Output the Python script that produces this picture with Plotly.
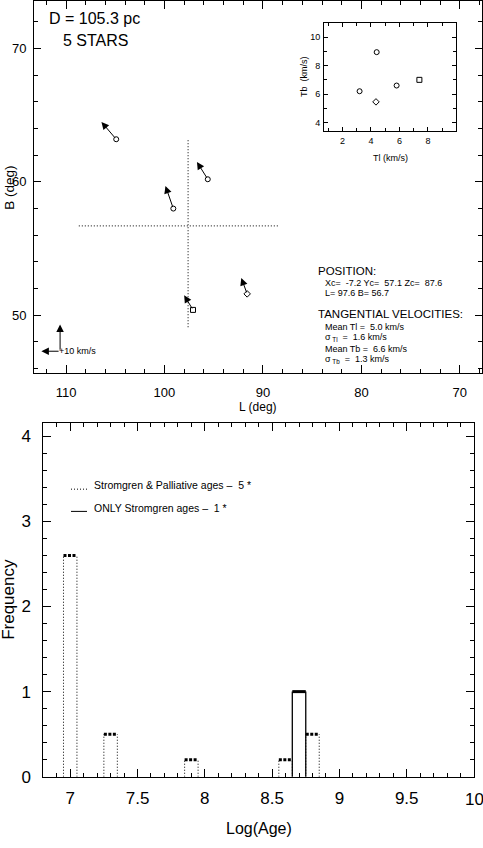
import plotly.graph_objects as go

# ---------------- DATA ----------------
# Top panel: star positions (galactic L, B in deg) and velocity-arrow tips
star_L = [104.9, 95.6, 99.1, 91.6, 97.1]
star_B = [63.2, 60.2, 58.0, 51.6, 50.4]
tip_L = [106.4, 96.7, 99.9, 92.2, 98.0]
tip_B = [64.5, 61.5, 59.7, 52.8, 51.5]
star_symbols = ["circle-open", "circle-open", "circle-open", "diamond-open", "square-open"]

# group centre cross
center_L = 97.6
center_B = 56.7
cross_L_span = [108.7, 88.3]
cross_B_span = [49.1, 63.2]

# 10 km/s scale arrows
scale_L0, scale_B0 = 110.6, 47.3
scale_Ltip, scale_Btip = 112.5, 49.3

# Inset: tangential velocities
inset_Tl = [4.4, 3.2, 4.35, 5.8, 7.4]
inset_Tb = [8.95, 6.2, 5.45, 6.6, 7.0]
inset_symbols = ["circle-open", "circle-open", "diamond-open", "circle-open", "square-open"]

# Bottom panel: age histogram
bins_all = [7.0, 7.3, 7.9, 8.6, 8.8]
freq_all = [2.6, 0.5, 0.2, 0.2, 0.5]
bins_only = [8.7]
freq_only = [1.0]
bin_width = 0.1
age_last_tick = 10

W, H = 483, 848
FONT = "Liberation Sans, Arial, sans-serif"


def xp(px):
    return px / W


def yp(py):
    return 1 - py / H


fig = go.Figure()

# ---- top panel ----
fig.add_trace(go.Scatter(x=cross_L_span, y=[center_B, center_B], mode="lines",
                         line=dict(color="black", width=1, dash="1px,2px"),
                         xaxis="x", yaxis="y", hoverinfo="skip"))
fig.add_trace(go.Scatter(x=[center_L, center_L], y=cross_B_span, mode="lines",
                         line=dict(color="black", width=1, dash="1px,2px"),
                         xaxis="x", yaxis="y", hoverinfo="skip"))
fig.add_trace(go.Scatter(x=star_L, y=star_B, mode="markers",
                         marker=dict(symbol=star_symbols, size=5, color="black",
                                     line=dict(width=1, color="black")),
                         xaxis="x", yaxis="y"))

annotations = []
for l0, b0, l1, b1 in zip(star_L, star_B, tip_L, tip_B):
    annotations.append(dict(x=l1, y=b1, ax=l0, ay=b0, xref="x", yref="y",
                            axref="x", ayref="y", text="", showarrow=True,
                            arrowhead=2, arrowsize=1.5, arrowwidth=1,
                            arrowcolor="black"))
# scale arrows
annotations.append(dict(x=scale_Ltip, y=scale_B0, ax=scale_L0, ay=scale_B0,
                        xref="x", yref="y", axref="x", ayref="y", text="",
                        showarrow=True, arrowhead=2, arrowsize=1.5, arrowwidth=1,
                        arrowcolor="black"))
annotations.append(dict(x=scale_L0, y=scale_Btip, ax=scale_L0, ay=scale_B0,
                        xref="x", yref="y", axref="x", ayref="y", text="",
                        showarrow=True, arrowhead=2, arrowsize=1.5, arrowwidth=1,
                        arrowcolor="black"))
annotations.append(dict(x=scale_L0, y=scale_B0, xref="x", yref="y", text="+10 km/s",
                        showarrow=False, xanchor="left", yanchor="middle",
                        xshift=-3, font=dict(size=9, family=FONT, color="black")))

# ---- inset ----
fig.add_trace(go.Scatter(x=inset_Tl, y=inset_Tb, mode="markers",
                         marker=dict(symbol=inset_symbols, size=5, color="black",
                                     line=dict(width=1, color="black")),
                         xaxis="x2", yaxis="y2"))

# ---- bottom histogram ----
def bar_sides(centers, heights, w):
    xs, ys = [], []
    for c, h in zip(centers, heights):
        xs += [c - w / 2, c - w / 2, None, c + w / 2, c + w / 2, None]
        ys += [0, h, None, 0, h, None]
    return xs, ys


def bar_tops(centers, heights, w):
    xs, ys = [], []
    for c, h in zip(centers, heights):
        xs += [c - w / 2, c + w / 2, None]
        ys += [h, h, None]
    return xs, ys


sx, sy = bar_sides(bins_all, freq_all, bin_width)
fig.add_trace(go.Scatter(x=sx, y=sy, mode="lines",
                         line=dict(color="black", width=1, dash="1px,2px"),
                         xaxis="x3", yaxis="y3"))
tx, ty = bar_tops(bins_all, freq_all, bin_width)
fig.add_trace(go.Scatter(x=tx, y=ty, mode="lines",
                         line=dict(color="black", width=3, dash="3px,1.5px"),
                         xaxis="x3", yaxis="y3"))
sx, sy = bar_sides(bins_only, freq_only, bin_width)
fig.add_trace(go.Scatter(x=sx, y=sy, mode="lines",
                         line=dict(color="black", width=1.3),
                         xaxis="x3", yaxis="y3"))
tx, ty = bar_tops(bins_only, freq_only, bin_width)
fig.add_trace(go.Scatter(x=tx, y=ty, mode="lines",
                         line=dict(color="black", width=3),
                         xaxis="x3", yaxis="y3"))

# ---- texts ----
def txt(x, y, s, size, anchor="left", angle=0):
    annotations.append(dict(x=xp(x), y=yp(y), xref="paper", yref="paper", text=s,
                            showarrow=False, xanchor=anchor, yanchor="middle",
                            textangle=angle,
                            font=dict(size=size, family=FONT, color="black")))


NB = "\u00a0"
txt(47, 19, "D = 105.3 pc", 16)
txt(61, 41, "5 STARS", 16)
txt(316, 274, "POSITION:", 11.5)
txt(323, 286, f"Xc={NB}{NB}-7.2 Yc={NB}{NB}57.1 Zc={NB}{NB}87.6", 9)
txt(323, 297, "L= 97.6 B= 56.7", 9)
txt(316, 318, "TANGENTIAL VELOCITIES:", 11.5)
txt(323, 331, f"Mean Tl ={NB}{NB}5.0 km/s", 9)
txt(323, 342, f"σ<sub>{NB}Tl</sub>{NB}{NB}={NB}{NB}1.6 km/s", 9)
txt(323, 353, f"Mean Tb ={NB}{NB}6.6 km/s", 9)
txt(323, 364, f"σ<sub>{NB}Tb</sub>{NB}{NB}={NB}{NB}1.3 km/s", 9)
txt(258, 412, "L (deg)", 12, "center")
txt(10, 190, "B (deg)", 13.5, "center", -90)
txt(390, 160, "Tl (km/s)", 9, "center")
txt(304, 78, f"Tb{NB}{NB}(km/s)", 9, "center", -90)
txt(259, 838, "Log(Age)", 16, "center")
txt(9, 607, "Frequency", 17, "center", -90)
txt(92, 491, f"Stromgren &amp; Palliative ages –{NB}{NB}5 *", 10.5)
txt(92, 514, f"ONLY Stromgren ages –{NB}{NB}1 *", 10.5)

# last x tick label of the histogram (dropped by plotly at the paper edge)
annotations.append(dict(x=age_last_tick, y=yp(809), xref="x3", yref="paper",
                        text=str(age_last_tick), showarrow=False, xanchor="center",
                        yanchor="middle",
                        font=dict(size=17, family=FONT, color="black")))

shapes = [
    dict(type="line", xref="paper", yref="paper", x0=xp(71), x1=xp(87),
         y0=yp(495), y1=yp(495), line=dict(color="black", width=1, dash="1px,2px")),
    dict(type="line", xref="paper", yref="paper", x0=xp(71), x1=xp(87),
         y0=yp(517.5), y1=yp(517.5), line=dict(color="black", width=1)),
]


def ax_style(**kw):
    base = dict(showline=True, linecolor="black", linewidth=1, mirror="allticks",
                ticks="inside", tickcolor="black", tickwidth=1, showgrid=False,
                zeroline=False, tickfont=dict(family=FONT, size=13, color="black"))
    base.update(kw)
    return base


fig.update_layout(
    width=W, height=H, margin=dict(l=0, r=0, t=0, b=0),
    paper_bgcolor="white", plot_bgcolor="white", showlegend=False,
    xaxis=ax_style(domain=[xp(34), xp(481.5)], range=[113.25, 67.8], anchor="y",
                   tick0=0, dtick=10, ticklen=8, ticklabelstandoff=8,
                   minor=dict(dtick=2, tick0=0, ticklen=4, ticks="inside", tickcolor="black")),
    yaxis=ax_style(domain=[yp(377), yp(0.6)], range=[45.7, 73.6], anchor="x",
                   tick0=0, dtick=10, ticklen=7, ticklabelstandoff=4,
                   minor=dict(dtick=2, tick0=0, ticklen=4, ticks="inside", tickcolor="black")),
    xaxis2=ax_style(domain=[xp(324), xp(455.7)], range=[0.7, 9.95], anchor="y2",
                    tick0=0, dtick=2, ticklen=4, ticklabelstandoff=1,
                    tickfont=dict(family=FONT, size=9, color="black"),
                    minor=dict(dtick=1, tick0=0, ticklen=3, ticks="inside", tickcolor="black")),
    yaxis2=ax_style(domain=[yp(133), yp(23.3)], range=[3.37, 11.0], anchor="x2",
                    tick0=0, dtick=2, ticklen=4, ticklabelstandoff=1,
                    tickfont=dict(family=FONT, size=9, color="black"),
                    minor=dict(dtick=1, tick0=0, ticklen=3, ticks="inside", tickcolor="black")),
    xaxis3=ax_style(domain=[xp(43.3), xp(474)], range=[6.8, 10], anchor="y3",
                    tick0=0, dtick=0.5, ticklen=8, ticklabelstandoff=6,
                    tickfont=dict(family=FONT, size=17, color="black"),
                    minor=dict(dtick=0.1, tick0=0, ticklen=4, ticks="inside", tickcolor="black")),
    yaxis3=ax_style(domain=[yp(786), yp(427.7)], range=[0, 4.16], anchor="x3",
                    tick0=0, dtick=1, ticklen=8, ticklabelstandoff=8,
                    tickfont=dict(family=FONT, size=17, color="black"),
                    minor=dict(dtick=0.2, tick0=0, ticklen=4, ticks="inside", tickcolor="black")),
    annotations=annotations,
    shapes=shapes,
)

fig.write_html(
    "out.html",
    config={"displayModeBar": False},
    post_script="document.body.style.margin='0';document.body.style.padding='0';"
                "document.body.style.overflow='hidden';",
)
